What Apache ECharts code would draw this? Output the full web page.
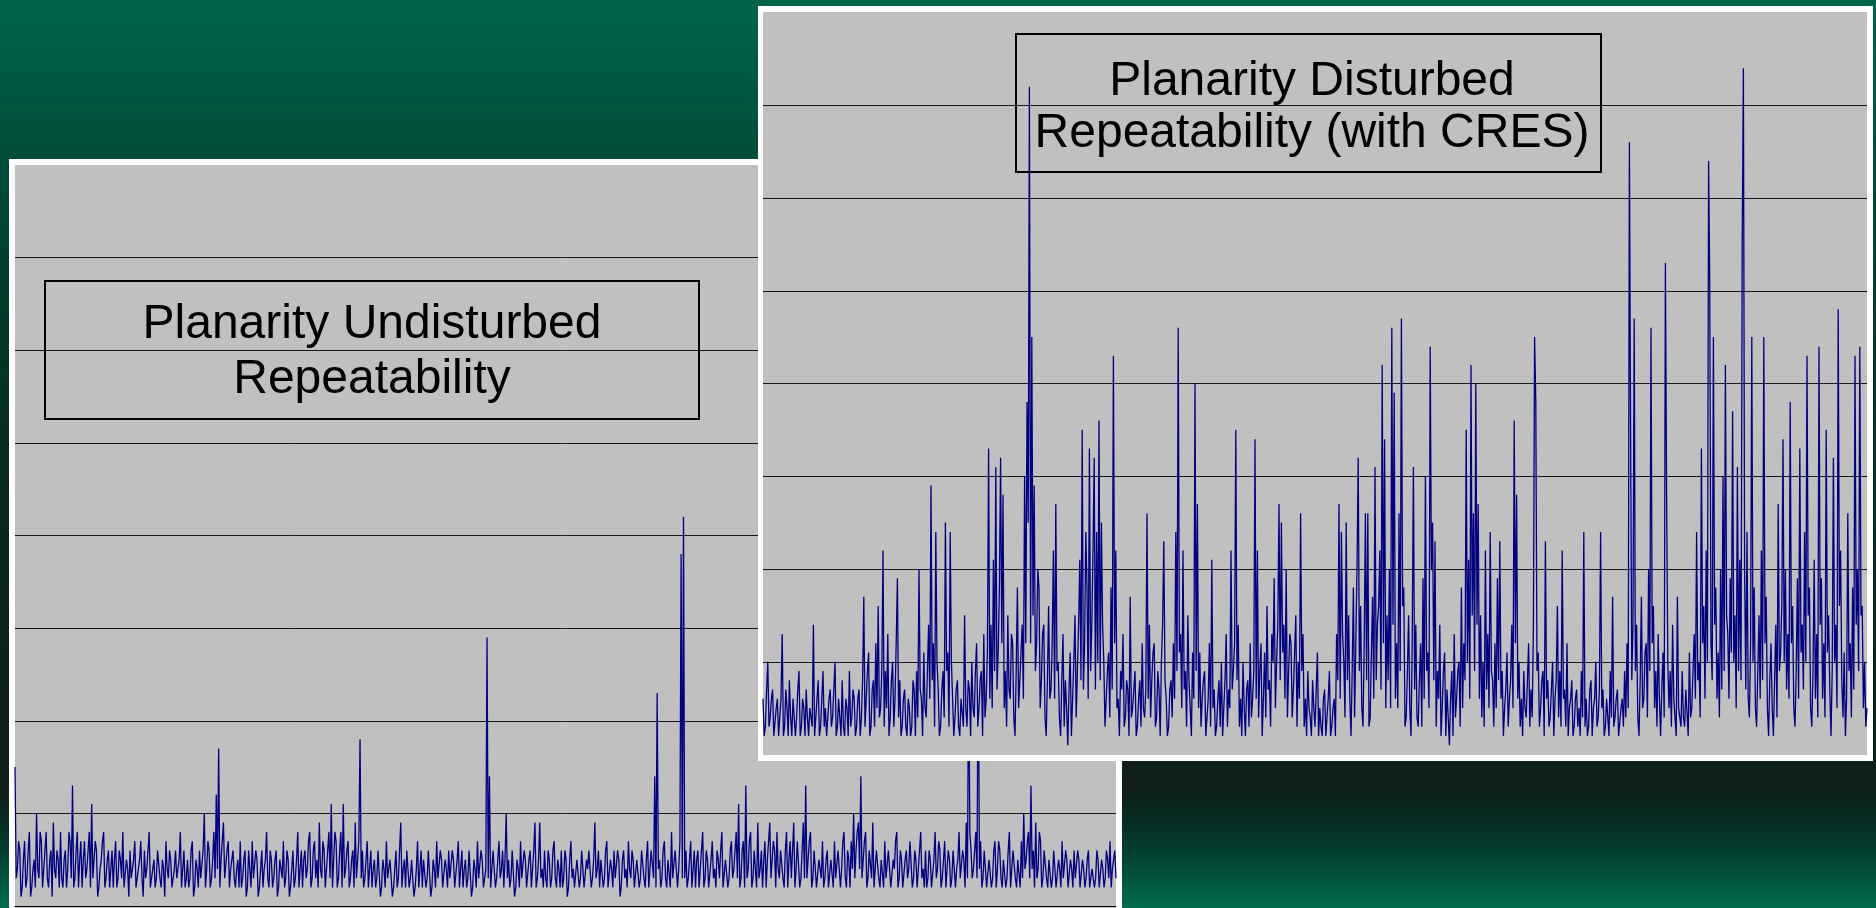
<!DOCTYPE html>
<html><head><meta charset="utf-8">
<script src="https://cdn.jsdelivr.net/npm/echarts@6/dist/echarts.min.js"></script>
<style>
html,body{margin:0;padding:0;width:1876px;height:908px;overflow:hidden;
background:linear-gradient(to bottom,#00654b 0px,#004d3a 160px,#023a2c 300px,#0c2520 550px,#0f1e19 790px,#033d2f 850px,#006c4e 908px);}
#chart{width:1876px;height:908px;}
</style></head><body><div id="chart"></div>
<script>
// Values in tenths of one gridline interval (axis 0..80, 8 gridline bands)
const undisturbedValues = [
15,3,4,7,6,1,2,5,7,2,3,6,8,1,2,4,5,2,10,4,3,8,7,2,4,6,8,3,2,5,6,1,9,4,3,6,5,2,8,3,
2,5,6,2,4,8,7,3,13,2,3,6,8,2,5,7,2,5,7,3,4,6,8,2,11,3,3,7,6,1,2,4,5,7,8,2,3,5,6,2,
4,6,2,5,7,2,3,6,5,3,8,2,2,5,4,1,6,3,3,5,7,2,2,4,5,7,3,1,6,3,4,6,8,2,2,4,5,2,3,6,
6,3,2,5,4,1,7,4,3,6,5,2,2,4,6,3,3,5,8,2,4,6,2,3,5,2,3,6,7,1,2,5,4,2,6,3,3,6,10,2,
4,7,6,2,3,5,8,3,12,4,17,2,5,7,9,3,3,6,7,2,4,5,6,3,2,4,5,2,7,2,3,5,6,1,2,6,4,2,7,3,
3,6,5,1,2,4,6,2,4,5,8,3,2,6,5,2,3,5,6,1,2,5,4,3,7,2,3,6,5,1,2,4,6,2,3,5,8,2,4,6,
2,5,6,3,4,7,8,2,3,6,7,3,5,2,9,4,3,7,6,2,4,6,8,3,11,2,5,8,7,2,3,6,8,2,11,3,4,6,7,2,
3,5,6,2,9,3,5,7,18,3,6,2,3,5,7,2,4,6,2,4,5,2,3,6,6,1,2,5,4,2,7,3,3,5,5,1,2,4,6,2,
3,6,9,2,4,5,2,6,6,2,3,5,5,1,2,4,7,2,4,6,2,5,5,2,3,6,6,1,2,5,4,2,7,3,3,6,5,2,2,5,
4,2,6,3,3,6,5,2,2,5,7,2,4,6,2,4,5,2,3,6,6,1,2,5,4,2,7,3,3,6,5,2,2,4,29,3,14,2,4,6,
6,2,3,5,7,3,4,6,2,5,10,3,5,2,3,6,6,1,2,5,4,2,7,3,3,6,5,2,2,5,6,2,4,6,9,2,3,5,9,3,
4,2,6,3,2,6,5,2,3,6,7,3,2,5,4,2,6,2,3,6,5,1,2,5,7,3,4,2,2,5,5,2,3,6,6,2,2,5,4,6,
6,2,3,5,9,3,4,6,2,5,5,2,3,6,7,2,2,5,4,2,6,3,3,6,5,1,2,5,6,3,4,2,7,4,3,6,5,2,2,5,
5,2,3,6,6,3,2,5,7,2,4,6,6,3,14,2,23,4,5,2,3,6,7,3,2,5,5,2,8,3,3,6,6,2,4,7,38,3,42,3,
6,2,3,5,7,2,4,6,2,5,6,2,4,6,8,2,3,6,5,2,2,5,7,3,4,2,6,5,3,6,8,2,2,5,5,2,3,6,7,3,
4,6,8,3,11,2,3,6,7,2,13,3,4,7,8,2,3,6,6,2,9,3,4,6,2,5,7,2,5,7,9,3,3,7,6,2,8,4,3,6,
6,3,2,6,8,2,5,7,3,6,9,2,4,7,7,2,3,6,9,3,13,3,5,7,8,2,3,6,6,2,2,5,5,3,7,2,3,5,6,2,
2,5,5,2,7,3,3,6,6,2,4,7,8,3,2,6,5,2,7,4,10,3,6,8,9,4,14,3,5,7,8,2,3,6,6,3,9,2,4,6,
6,3,2,5,5,2,7,3,3,6,6,2,2,5,4,7,8,2,3,6,5,2,2,5,6,3,4,7,7,2,3,6,5,2,2,6,8,3,4,2,
6,2,3,6,5,2,2,5,8,3,4,7,6,2,3,5,7,2,2,6,5,2,3,6,6,2,4,5,8,3,3,6,5,2,9,3,27,8,6,3,
4,6,8,3,31,4,7,2,3,6,6,2,2,5,5,2,3,6,7,2,4,7,6,3,2,5,5,2,3,6,8,2,4,6,6,3,2,5,5,2,
7,3,10,4,5,7,8,3,13,4,6,2,9,3,4,8,7,2,3,6,6,3,2,5,5,2,3,6,6,2,2,5,4,2,7,3,3,6,5,2,
2,5,4,2,6,3,3,6,5,2,2,5,4,2,3,5,6,2,2,4,4,2,3,6,5,2,2,5,4,2,3,6,5,3,7,2,4,5,6,3
];
const disturbedValues = [
6,2,3,7,10,3,4,6,7,2,2,5,6,2,4,6,13,2,3,7,5,2,8,4,2,6,6,2,4,7,9,2,3,6,5,2,7,4,2,5,
5,3,14,2,4,6,8,2,3,6,9,3,5,2,2,6,7,3,4,7,10,2,3,6,6,2,8,3,2,6,5,2,9,3,4,7,6,2,3,6,
7,2,4,8,17,3,6,9,11,2,3,7,8,3,12,5,16,4,5,9,22,3,9,5,13,2,4,8,10,3,6,12,19,4,8,2,3,6,7,3,
2,6,5,2,3,8,7,2,9,4,20,7,6,2,11,5,4,9,14,6,29,8,12,3,24,10,7,2,3,7,9,4,25,9,11,3,24,10,6,2,
4,7,8,3,2,6,6,3,15,5,3,8,7,2,10,5,4,9,12,3,5,8,9,2,13,4,6,11,33,6,14,5,21,9,31,7,11,18,32,12,
28,5,9,3,15,7,6,13,12,4,2,9,18,5,8,11,14,6,30,12,38,25,72,12,45,15,29,9,12,20,18,5,8,13,14,4,2,8,16,6,
7,12,22,6,27,9,10,4,2,8,13,3,8,5,1,7,11,2,6,10,15,4,9,14,21,8,35,7,12,24,18,6,33,9,14,22,32,7,24,10,
36,8,25,14,10,3,6,9,11,4,18,7,43,12,22,5,6,2,9,7,13,3,4,8,7,2,17,4,5,7,9,2,3,6,8,3,12,5,4,7,
26,6,14,4,8,11,12,3,4,9,7,2,10,14,23,8,6,2,3,7,8,4,12,6,24,9,46,11,13,5,22,7,9,3,15,8,5,2,11,6,
40,9,27,5,11,3,6,8,9,2,4,6,12,3,21,5,7,2,3,6,8,3,10,2,5,8,13,3,7,5,22,7,9,12,35,8,14,3,6,2,
10,5,2,7,8,3,12,4,6,9,34,6,22,4,9,12,2,6,11,4,16,7,8,3,13,10,19,5,10,14,27,8,25,11,14,6,20,4,9,13,
12,4,7,11,15,3,10,6,26,9,13,3,6,2,9,5,4,2,8,5,3,7,11,2,5,3,2,6,7,2,4,6,9,2,3,5,6,2,13,8,
27,6,24,13,10,4,25,8,15,6,2,9,18,4,12,20,32,9,16,5,3,12,26,8,26,3,4,11,17,6,31,8,14,16,22,7,42,12,34,5,
15,8,20,5,46,14,39,6,12,5,26,9,47,16,18,3,4,9,15,5,2,12,31,7,14,4,3,8,12,3,19,6,30,9,11,5,44,20,25,8,
23,3,9,6,14,2,5,9,11,2,7,4,1,6,9,2,13,4,6,9,10,3,18,5,12,8,35,10,21,6,42,15,26,9,40,14,27,6,15,4,
10,3,22,7,13,5,24,9,8,3,12,5,19,8,23,6,9,2,5,7,11,3,6,8,14,5,36,12,28,6,10,3,6,2,9,5,4,8,12,3,
7,4,14,45,38,9,11,3,5,8,9,2,23,6,8,3,4,7,10,2,6,8,16,4,9,3,22,6,7,3,12,2,5,6,8,2,3,6,7,3,
5,2,9,4,24,3,6,2,3,7,8,2,5,6,10,3,4,7,24,5,7,2,3,6,6,2,9,4,17,3,4,6,7,2,2,5,6,3,9,4,
12,5,66,35,8,14,47,9,14,4,2,8,17,5,6,11,12,4,20,9,46,12,16,5,9,3,13,6,2,7,11,4,53,28,10,5,9,3,14,6,
6,2,17,5,5,3,9,4,3,7,7,2,11,4,5,9,13,6,24,8,10,4,33,12,16,6,22,10,64,50,12,8,45,14,18,6,11,4,20,7,
30,9,42,15,13,6,19,11,37,10,15,5,31,9,21,8,55,74,20,7,24,6,4,12,45,10,18,5,3,9,15,6,22,8,45,12,17,5,2,8,
12,5,2,8,14,4,27,9,11,16,34,10,20,7,13,6,38,12,16,5,3,9,19,6,33,11,14,7,24,10,43,15,18,5,3,9,21,6,13,4,
44,14,19,6,12,4,35,11,15,7,2,9,32,10,14,5,48,16,22,8,4,11,2,6,26,9,12,4,18,7,43,14,20,9,44,15,16,5,10,3,
5
];
const undisturbedIndex = undisturbedValues.map((v, i) => i);
const disturbedIndex = disturbedValues.map((v, i) => i);
const titleLeft = ['Planarity Undisturbed', 'Repeatability'];
const titleRight = ['Planarity Disturbed', 'Repeatability (with CRES)'];

const chart = echarts.init(document.getElementById('chart'), null, {renderer: 'canvas'});
const FONT = '"Liberation Sans", Arial, sans-serif';
const lineColor = '#000080';

function xAx(gridIndex, data, showLine, z) {
  return {type: 'category', gridIndex, data, boundaryGap: false, z,
    axisLine: {show: showLine, lineStyle: {color: '#000', width: 1}},
    axisTick: {show: false}, axisLabel: {show: false}, splitLine: {show: false}};
}
function yAx(gridIndex, z, showMin) {
  return {type: 'value', gridIndex, min: 0, max: 80, interval: 10, z,
    axisLine: {show: false}, axisTick: {show: false}, axisLabel: {show: false},
    splitLine: {show: true, showMinLine: showMin, showMaxLine: false,
      lineStyle: {color: '#1a1a1a', width: 1}}};
}

chart.setOption({
  backgroundColor: 'transparent',
  animation: false,
  grid: [
    {left: 15, top: 165, width: 1101, height: 741},
    {left: 763, top: 12.5, width: 1104, height: 742}
  ],
  xAxis: [xAx(0, undisturbedIndex, true, 2), xAx(1, disturbedIndex, false, 12)],
  yAxis: [yAx(0, 2, true), yAx(1, 12, false)],
  series: [
    {type: 'line', xAxisIndex: 0, yAxisIndex: 0, data: undisturbedValues, z: 3,
     showSymbol: false, symbol: 'none', silent: true,
     lineStyle: {color: lineColor, width: 1.3, join: 'miter', miterLimit: 2}, itemStyle: {color: lineColor}},
    {type: 'line', xAxisIndex: 1, yAxisIndex: 1, data: disturbedValues, z: 13,
     showSymbol: false, symbol: 'none', silent: true,
     lineStyle: {color: lineColor, width: 1.3, join: 'miter', miterLimit: 2}, itemStyle: {color: lineColor}}
  ],
  graphic: [
    // left panel frame
    {type: 'rect', z: 0, silent: true, shape: {x: 9, y: 159, width: 1113, height: 760}, style: {fill: '#ffffff'}},
    {type: 'rect', z: 1, silent: true, shape: {x: 15, y: 165, width: 1101, height: 760}, style: {fill: '#c0c0c0'}},
    // left title box
    {type: 'rect', z: 4, silent: true, shape: {x: 45, y: 281, width: 654, height: 138},
     style: {fill: 'transparent', stroke: '#000', lineWidth: 2}},
    {type: 'text', z: 4, silent: true, x: 372, y: 325,
     style: {text: titleLeft[0], font: '48px ' + FONT, fill: '#000', align: 'center', verticalAlign: 'middle'}},
    {type: 'text', z: 4, silent: true, x: 372, y: 380,
     style: {text: titleLeft[1], font: '48px ' + FONT, fill: '#000', align: 'center', verticalAlign: 'middle'}},
    // right panel frame
    {type: 'rect', z: 10, silent: true, shape: {x: 758, y: 6, width: 1115, height: 755}, style: {fill: '#ffffff'}},
    {type: 'rect', z: 11, silent: true, shape: {x: 763, y: 12, width: 1104, height: 743}, style: {fill: '#c0c0c0'}},
    // right title box
    {type: 'rect', z: 14, silent: true, shape: {x: 1016, y: 34, width: 585, height: 138},
     style: {fill: 'transparent', stroke: '#000', lineWidth: 2}},
    {type: 'text', z: 14, silent: true, x: 1312, y: 82,
     style: {text: titleRight[0], font: '48px ' + FONT, fill: '#000', align: 'center', verticalAlign: 'middle'}},
    {type: 'text', z: 14, silent: true, x: 1312, y: 134,
     style: {text: titleRight[1], font: '48px ' + FONT, fill: '#000', align: 'center', verticalAlign: 'middle'}}
  ]
});
</script></body></html>
